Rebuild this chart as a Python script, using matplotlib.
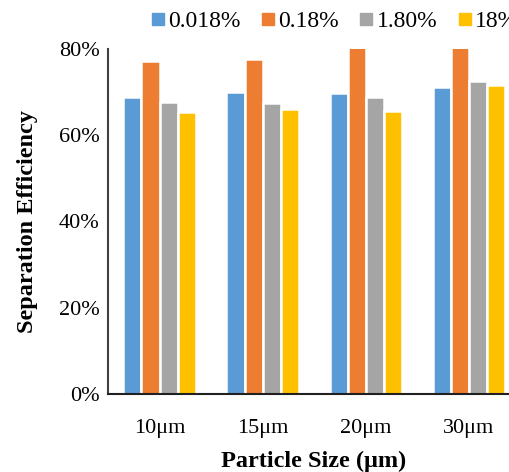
import matplotlib.pyplot as plt
import numpy as np
from matplotlib.lines import Line2D

sizes = ['10μm', '15μm', '20μm', '30μm']
series = ['0.018%', '0.18%', '1.80%', '18%']
colors = ['#5B9BD5', '#ED7D31', '#A5A5A5', '#FFC000']

eff_0018 = [68.9, 70.0, 69.8, 71.3]
eff_018 = [77.2, 77.6, 82.0, 85.0]
eff_180 = [67.6, 67.5, 68.8, 72.6]
eff_18 = [65.3, 66.2, 65.6, 71.7]
values = [eff_0018, eff_018, eff_180, eff_18]

plt.rcParams['font.family'] = ['Liberation Serif', 'DejaVu Serif']

fig = plt.figure(figsize=(5.1, 4.72), dpi=100)
ax = fig.add_axes([0.2118, 0.1653, 0.808, 0.7309])

x = np.arange(len(sizes))
w = 0.175
for i, vals in enumerate(values):
    ax.bar(x + (i - 1.5) * w, vals, width=w, color=colors[i],
           edgecolor='white', linewidth=1.8)

ax.set_xlim(-0.5, 3.5)
ax.set_ylim(0, 80)
ax.set_yticks([0, 20, 40, 60, 80])
ax.set_yticklabels(['%d%%' % v for v in [0, 20, 40, 60, 80]])
ax.set_xticks(x)
ax.set_xticklabels(sizes)
ax.tick_params(length=0, labelsize=16, pad=6)
ax.tick_params(axis='x', pad=18)

for s in ['top', 'right']:
    ax.spines[s].set_visible(False)
ax.spines['left'].set_color('#404040')
ax.spines['left'].set_linewidth(1.5)
ax.spines['bottom'].set_color('#202020')
ax.spines['bottom'].set_linewidth(1.5)

ax.set_xlabel('Particle Size (μm)', fontsize=17.5, fontweight='bold', labelpad=9)
ax.set_ylabel('Separation Efficiency', fontsize=17.5, fontweight='bold', labelpad=15)

handles = [Line2D([], [], marker='s', linestyle='none', markersize=9,
                  color=c) for c in colors]
fig.legend(handles, series, loc='center left', bbox_to_anchor=(0.272, 0.955),
           ncol=4, frameon=False, fontsize=17, handletextpad=0.05,
           columnspacing=0.75, handlelength=0.8, borderaxespad=0)

fig.savefig('out.png', dpi=100)
